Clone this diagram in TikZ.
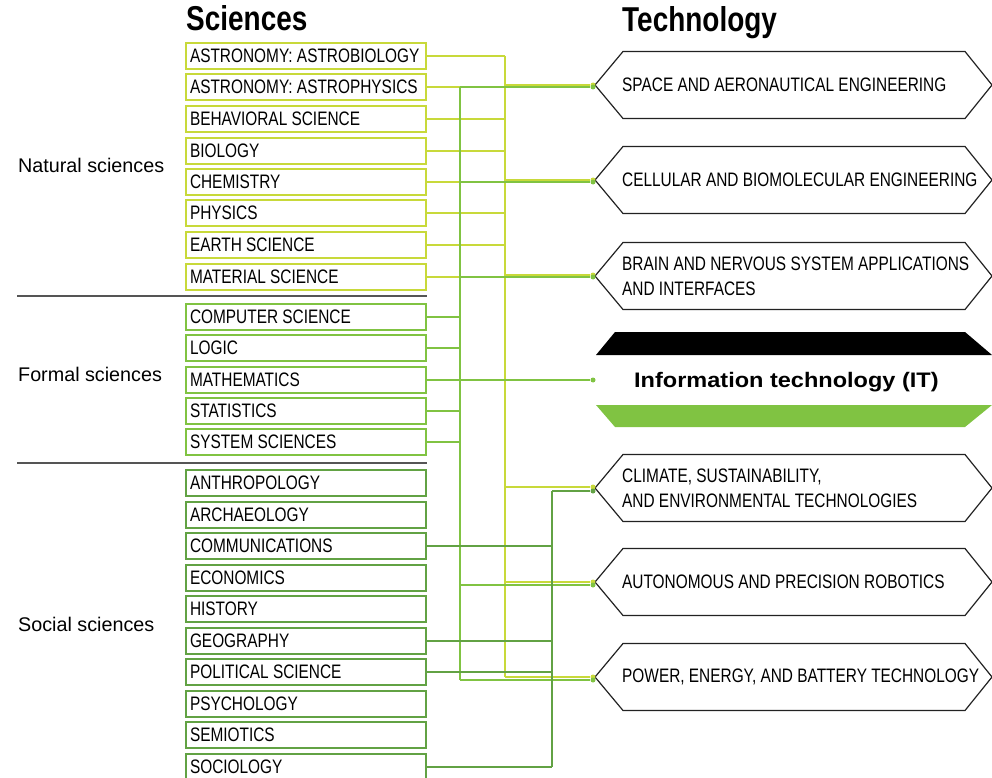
\documentclass[tikz,border=0pt]{standalone}
\usepackage{fontspec}
\setmainfont{Liberation Sans}
\newfontfamily\condfont[FakeStretch=0.79]{Liberation Sans}
\newfontfamily\headfont[FakeStretch=0.81]{Liberation Sans}
\newfontfamily\itfont[FakeStretch=1.12]{Liberation Sans}
\usepackage{tikz}
\usetikzlibrary{positioning}
\definecolor{natgreen}{HTML}{C8D93A}
\definecolor{formgreen}{HTML}{80C342}
\definecolor{socgreen}{HTML}{62A244}
\definecolor{sepgray}{HTML}{555555}
\definecolor{hexgray}{HTML}{222222}
\newcommand{\condtext}{\condfont\fontsize{19.5}{25}\selectfont\frenchspacing}
\newcommand{\hexframe}[1]{\draw[hexline] ([shift={(1,-33.5)}]#1.west) -- ++(342,0) -- ++(27,33.5) -- ++(-27,33.5) -- ++(-342,0) -- ++(-28,-33.5) -- cycle;}

\begin{document}
\begin{tikzpicture}[x=1pt,y=-1pt,
  scibox/.style={rectangle,draw,line width=1.4pt,minimum height=26pt,text width=232pt,inner xsep=4pt,inner ysep=0pt,align=left,font=\condtext,execute at begin node={\spaceskip=0pt\xspaceskip=0pt}},
  techtext/.style={anchor=west,inner sep=0pt,align=left,font=\condtext},
  header/.style={anchor=base west,inner sep=0pt,font=\headfont\bfseries\fontsize{34.5}{40}\selectfont},
  grouplabel/.style={anchor=base west,inner sep=0pt,font=\fontsize{19.75}{24}\selectfont},
  dot/.style={circle,inner sep=0pt,minimum size=5pt,draw=none},
  natline/.style={draw=natgreen,line width=1.4pt},
  formline/.style={draw=formgreen,line width=1.4pt},
  socline/.style={draw=socgreen,line width=1.4pt},
  hexline/.style={draw=hexgray,line width=1.2pt,line join=miter},
  sepline/.style={draw=sepgray,line width=1.3pt}]
\useasboundingbox (0,0) rectangle (992,778);
% headings and groups
\node (sci) [header] at (186,31) {Sciences};
\node (tech) [header] at (622,32) {Technology};
\node (gnat) [grouplabel] at (18,172) {Natural sciences};
\node (gform) [grouplabel] at (18,381) {Formal sciences};
\node (gsoc) [grouplabel] at (18,631) {Social sciences};
\draw[sepline] (17,296) -- (427,296);
\draw[sepline] (17,463) -- (427,463);
% natural sciences
\node (n1) [scibox,draw=natgreen] at (306,56) {ASTRONOMY: ASTROBIOLOGY};
\node (n2) [scibox,draw=natgreen] at (306,87) {ASTRONOMY: ASTROPHYSICS};
\node (n3) [scibox,draw=natgreen] at (306,119) {BEHAVIORAL SCIENCE};
\node (n4) [scibox,draw=natgreen] at (306,151) {BIOLOGY};
\node (n5) [scibox,draw=natgreen] at (306,182) {CHEMISTRY};
\node (n6) [scibox,draw=natgreen] at (306,213) {PHYSICS};
\node (n7) [scibox,draw=natgreen] at (306,245) {EARTH SCIENCE};
\node (n8) [scibox,draw=natgreen] at (306,277) {MATERIAL SCIENCE};
% formal sciences
\node (f1) [scibox,draw=formgreen] at (306,317) {COMPUTER SCIENCE};
\node (f2) [scibox,draw=formgreen] at (306,348) {LOGIC};
\node (f3) [scibox,draw=formgreen] at (306,380) {MATHEMATICS};
\node (f4) [scibox,draw=formgreen] at (306,411) {STATISTICS};
\node (f5) [scibox,draw=formgreen] at (306,442) {SYSTEM SCIENCES};
% social sciences
\node (c1) [scibox,draw=socgreen] at (306,483) {ANTHROPOLOGY};
\node (c2) [scibox,draw=socgreen] at (306,515) {ARCHAEOLOGY};
\node (c3) [scibox,draw=socgreen] at (306,546) {COMMUNICATIONS};
\node (c4) [scibox,draw=socgreen] at (306,578) {ECONOMICS};
\node (c5) [scibox,draw=socgreen] at (306,609) {HISTORY};
\node (c6) [scibox,draw=socgreen] at (306,641) {GEOGRAPHY};
\node (c7) [scibox,draw=socgreen] at (306,672) {POLITICAL SCIENCE};
\node (c8) [scibox,draw=socgreen] at (306,704) {PSYCHOLOGY};
\node (c9) [scibox,draw=socgreen] at (306,735) {SEMIOTICS};
\node (c10) [scibox,draw=socgreen] at (306,767) {SOCIOLOGY};
% technology
\node (t1) [techtext] at (622,85) {SPACE AND AERONAUTICAL ENGINEERING};
\node (t2) [techtext] at (622,180) {CELLULAR AND BIOMOLECULAR ENGINEERING};
\node (t3) [techtext] at (622,276) {BRAIN AND NERVOUS SYSTEM APPLICATIONS\\AND INTERFACES};
\node (t4) [techtext] at (622,488) {CLIMATE, SUSTAINABILITY,\\AND ENVIRONMENTAL TECHNOLOGIES};
\node (t5) [techtext] at (622,582) {AUTONOMOUS AND PRECISION ROBOTICS};
\node (t6) [techtext] at (622,677) {POWER, ENERGY, AND BATTERY TECHNOLOGY};
\hexframe{t1}
\hexframe{t2}
\hexframe{t3}
\hexframe{t4}
\hexframe{t5}
\hexframe{t6}
% IT banner
\fill[black] (615,332) -- (965,332) -- (992,355) -- (596,355) -- cycle;
\fill[formgreen] (596,405) -- (992,405) -- (965,427) -- (615,427) -- cycle;
\node (it) [anchor=base west,inner sep=0pt,font=\itfont\bfseries\fontsize{21}{25}\selectfont] at (634,387) {Information technology (IT)};
% end dots
\node (dy1) [dot,fill=natgreen] at (593,85) {};
\node (dy2) [dot,fill=natgreen] at (593,180) {};
\node (dy3) [dot,fill=natgreen] at (593,275) {};
\node (dy4) [dot,fill=natgreen] at (593,487) {};
\node (dy5) [dot,fill=natgreen] at (593,582) {};
\node (dy6) [dot,fill=natgreen] at (593,677) {};
\node (dg1) [dot,fill=formgreen] at (593,87) {};
\node (dg2) [dot,fill=formgreen] at (593,182) {};
\node (dg3) [dot,fill=formgreen] at (593,277) {};
\node (dg4) [dot,fill=formgreen] at (593,380) {};
\node (dg5) [dot,fill=formgreen] at (593,585) {};
\node (dg6) [dot,fill=formgreen] at (593,680) {};
\node (ds1) [dot,fill=socgreen] at (593,491) {};
\coordinate (nbus) at (505,0);
\coordinate (fbus) at (460,0);
\coordinate (sbus) at (552,0);
% natural bus
\draw[natline] (n1.east) -- (n1.east -| nbus);
\draw[natline] (n2.east) -- (n2.east -| nbus);
\draw[natline] (n3.east) -- (n3.east -| nbus);
\draw[natline] (n4.east) -- (n4.east -| nbus);
\draw[natline] (n5.east) -- (n5.east -| nbus);
\draw[natline] (n6.east) -- (n6.east -| nbus);
\draw[natline] (n7.east) -- (n7.east -| nbus);
\draw[natline] (n8.east) -- (n8.east -| nbus);
\draw[natline] (n1.east -| nbus) -- (dy6.center -| nbus);
\draw[natline] (dy1 -| nbus) -- (dy1);
\draw[natline] (dy2 -| nbus) -- (dy2);
\draw[natline] (dy3 -| nbus) -- (dy3);
\draw[natline] (dy4 -| nbus) -- (dy4);
\draw[natline] (dy5 -| nbus) -- (dy5);
\draw[natline] (dy6 -| nbus) -- (dy6);
% formal bus
\draw[formline] (f1.east) -- (f1.east -| fbus);
\draw[formline] (f2.east) -- (f2.east -| fbus);
\draw[formline] (f3.east) -- (dg4);
\draw[formline] (f4.east) -- (f4.east -| fbus);
\draw[formline] (f5.east) -- (f5.east -| fbus);
\draw[formline] (n2.east -| fbus) -- (dg6.center -| fbus);
\draw[formline] (n2.east -| fbus) -- (dg1);
\draw[formline] (n5.east -| fbus) -- (dg2);
\draw[formline] (n8.east -| fbus) -- (dg3);
\draw[formline] (dg5 -| fbus) -- (dg5);
\draw[formline] (dg6 -| fbus) -- (dg6);
% social bus
\draw[socline] (c3.east) -- (c3.east -| sbus);
\draw[socline] (c6.east) -- (c6.east -| sbus);
\draw[socline] (c7.east) -- (c7.east -| sbus);
\draw[socline] (c10.east) -- (c10.east -| sbus);
\draw[socline] (ds1.center -| sbus) -- (c10.east -| sbus);
\draw[socline] (ds1 -| sbus) -- (ds1);
\end{tikzpicture}
\end{document}
